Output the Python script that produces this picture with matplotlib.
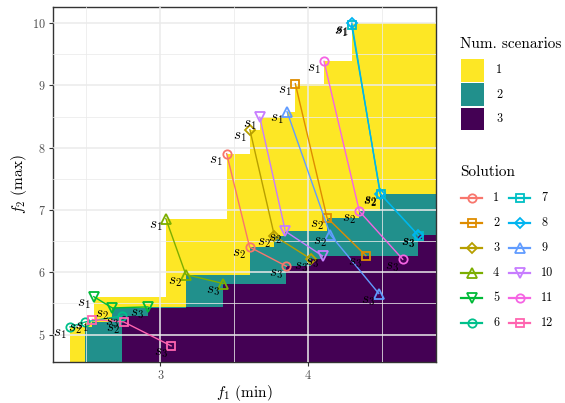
import numpy as np
import matplotlib

matplotlib.use("Agg")

import matplotlib.pyplot as plt
from matplotlib.lines import Line2D
from matplotlib.patches import Rectangle
from matplotlib.ticker import MultipleLocator

plt.rcParams["font.family"] = ["cmr10", "DejaVu Serif"]
plt.rcParams["mathtext.fontset"] = "cm"
plt.rcParams["axes.unicode_minus"] = False
plt.rcParams["axes.formatter.use_mathtext"] = True

# objective values of each solution under the three scenarios
solutions = [str(i) for i in range(1, 13)]
s1_x = [3.448, 3.912, 3.605, 3.037, 2.550, 2.389, 4.292, 4.294, 3.856, 3.672, 4.106, 2.541]
s1_y = [7.905, 9.028, 8.290, 6.863, 5.610, 5.124, 9.970, 10.000, 8.580, 8.490, 9.386, 5.243]
s2_x = [3.603, 4.126, 3.771, 3.172, 2.675, 2.494, 4.488, 4.485, 4.148, 3.845, 4.345, 2.752]
s2_y = [6.407, 6.879, 6.584, 5.965, 5.429, 5.205, 7.255, 7.264, 6.606, 6.659, 6.980, 5.205]
s3_x = [3.852, 4.389, 4.020, 3.426, 2.916, 2.743, 4.745, 4.743, 4.476, 4.096, 4.638, 3.073]
s3_y = [6.098, 6.268, 6.210, 5.820, 5.445, 5.301, 6.590, 6.595, 5.660, 6.263, 6.210, 4.820]

count_labels = ["1", "2", "3"]
count_colors = ["#FDE725", "#21908C", "#440154"]
sol_colors = ["#F8766D", "#DE8C00", "#B79F00", "#7CAE00", "#00BA38", "#00C08B",
              "#00BFC4", "#00B4F0", "#619CFF", "#C77CFF", "#F564E3", "#FF64B0"]
sol_markers = ["o", "s", "D", "^", "v", "o", "s", "D", "^", "v", "o", "s"]
marker_sizes = {"o": 6, "s": 5.5, "D": 5, "^": 6.5, "v": 6.5}

scen_x = [np.array(s1_x), np.array(s2_x), np.array(s3_x)]
scen_y = [np.array(s1_y), np.array(s2_y), np.array(s3_y)]

all_x = np.concatenate(scen_x)
all_y = np.concatenate(scen_y)
xr = all_x.max() - all_x.min()
yr = all_y.max() - all_y.min()
xlim = (all_x.min() - 0.05 * xr, all_x.max() + 0.05 * xr)
ylim = (all_y.min() - 0.05 * yr, all_y.max() + 0.05 * yr)

W, H = 565, 403
fig = plt.figure(figsize=(W / 100, H / 100), dpi=100)
ax = fig.add_axes([52.5 / W, 1 - 362 / H, (436 - 52.5) / W, (362 - 7) / H])

# region attained by each scenario (min f1, max f2), then count overlaps
grid = np.unique(all_x)
bottom = ylim[0] - 1
tops = []
for xs, ys in zip(scen_x, scen_y):
    t = np.array([ys[xs <= g + 1e-9].max() if np.any(xs <= g + 1e-9) else -np.inf for g in grid])
    tops.append(t)
levels = -np.sort(-np.vstack(tops), axis=0)
xb = np.append(grid, xlim[1] + 1)
for lvl, color in zip(levels, count_colors):
    upper = np.where(np.isfinite(lvl), lvl, bottom)
    upper = np.append(upper, upper[-1])
    ax.fill_between(xb, bottom, upper, step="post", color=color, lw=0, zorder=1)

for i, name in enumerate(solutions):
    xs = [s1_x[i], s2_x[i], s3_x[i]]
    ys = [s1_y[i], s2_y[i], s3_y[i]]
    m = sol_markers[i]
    ax.plot(xs, ys, color=sol_colors[i], lw=1.0, marker=m, ms=marker_sizes[m],
            mfc="none", mec=sol_colors[i], mew=1.3, zorder=3)
    for k, (x, y) in enumerate(zip(xs, ys)):
        ax.annotate(f"$s_{k + 1}$", (x, y), xytext=(-2.5, -0.5), textcoords="offset points",
                    ha="right", va="top", fontsize=11, color="black", zorder=4)

ax.set_xlim(*xlim)
ax.set_ylim(*ylim)
ax.xaxis.set_major_locator(MultipleLocator(1))
ax.yaxis.set_major_locator(MultipleLocator(1))
ax.xaxis.set_minor_locator(MultipleLocator(0.5))
ax.yaxis.set_minor_locator(MultipleLocator(0.5))
ax.set_axisbelow(False)
ax.grid(which="major", color="#EBEBEB", lw=1.1)
ax.grid(which="minor", color="#EBEBEB", lw=0.55)
ax.tick_params(which="major", length=3, width=0.8, color="#333333",
               labelsize=8.8, labelcolor="#4D4D4D", pad=2)
ax.tick_params(which="minor", length=0)
for sp in ax.spines.values():
    sp.set_color("#333333")
    sp.set_linewidth(1.0)
ax.set_xlabel("$f_1$ (min)", fontsize=11, labelpad=1)
ax.set_ylabel("$f_2$ (max)", fontsize=11, labelpad=2)

# legends drawn in figure pixel space
lg = fig.add_axes([0, 0, 1, 1])
lg.set_xlim(0, W)
lg.set_ylim(H, 0)
lg.axis("off")

lg.text(460.5, 48, "Num. scenarios", fontsize=11, va="baseline", ha="left")
for j, (lab, col) in enumerate(zip(count_labels, count_colors)):
    y0 = 59 + j * 24.3
    lg.add_patch(Rectangle((461, y0), 23, 22.6, facecolor=col, edgecolor="none"))
    lg.text(496, y0 + 11.3, lab, fontsize=8.8, va="center", ha="left")

lg.text(460.5, 176.5, "Solution", fontsize=11, va="baseline", ha="left")
for i, name in enumerate(solutions):
    col_x = 461 if i < 6 else 509
    yc = 198.3 + (i % 6) * 24.9
    m = sol_markers[i]
    lg.add_line(Line2D([col_x, col_x + 21], [yc, yc], color=sol_colors[i], lw=1.6))
    lg.add_line(Line2D([col_x + 10.5], [yc], marker=m, ms=marker_sizes[m], mfc="none",
                       mec=sol_colors[i], mew=1.3, color=sol_colors[i]))
    lg.text(col_x + 32, yc, name, fontsize=8.8, va="center", ha="left")

fig.savefig("out.png", dpi=100)
